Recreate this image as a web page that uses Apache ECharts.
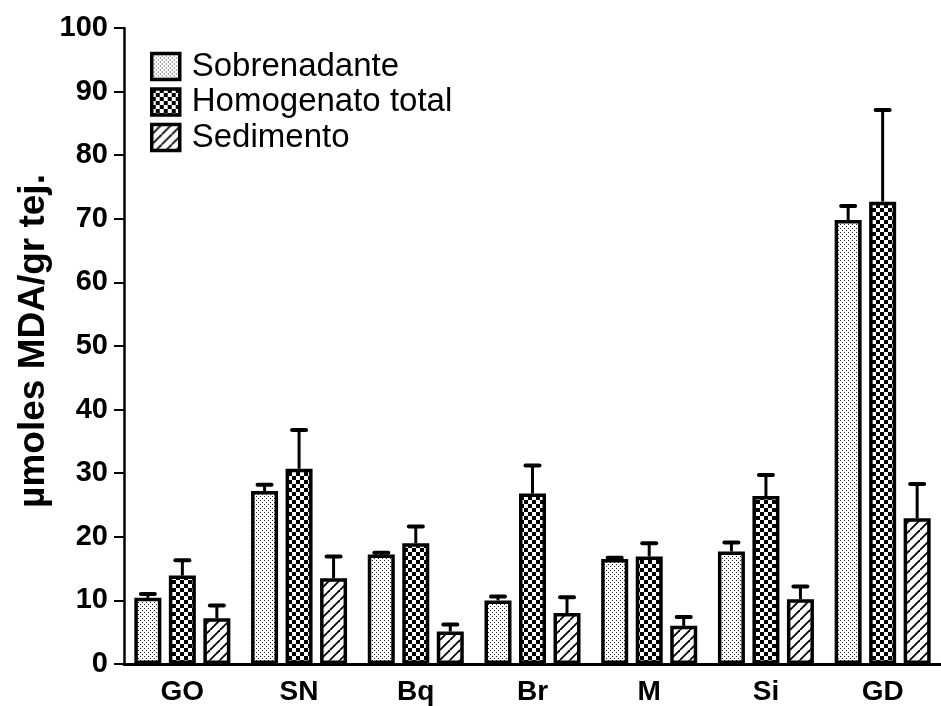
<!DOCTYPE html>
<html>
<head>
<meta charset="utf-8">
<script src="https://cdn.jsdelivr.net/npm/echarts@6/dist/echarts.min.js"></script>
<style>
html,body{margin:0;padding:0;background:#fff;}
#chart{width:941px;height:706px;}
</style>
</head>
<body>
<div id="chart"></div>
<script>
// ---- data ----
const categories = ['GO', 'SN', 'Bq', 'Br', 'M', 'Si', 'GD'];
const seriesNames = ['Sobrenadante', 'Homogenato total', 'Sedimento'];
const sobrenadante = [10.4, 27.2, 17.2, 10.0, 16.5, 17.7, 69.8];
const sobrenadanteErr = [0.6, 1.0, 0.3, 0.6, 0.2, 1.4, 2.2];
const homogenato = [13.9, 30.7, 19.0, 26.8, 16.9, 26.4, 72.7];
const homogenatoErr = [2.4, 6.1, 2.6, 4.4, 2.1, 3.3, 14.4];
const sedimento = [7.2, 13.5, 5.1, 8.0, 6.0, 10.2, 22.9];
const sedimentoErr = [2.0, 3.4, 1.1, 2.5, 1.4, 2.0, 5.4];
const yTicks = [0, 10, 20, 30, 40, 50, 60, 70, 80, 90, 100];
const yAxisTitle = 'µmoles MDA/gr tej.';

// ---- patterns ----
function makeCanvas(w, h, draw) {
  const c = document.createElement('canvas');
  c.width = w; c.height = h;
  const ctx = c.getContext('2d');
  ctx.fillStyle = '#fff';
  ctx.fillRect(0, 0, w, h);
  draw(ctx, w, h);
  return c;
}
const dots = makeCanvas(4, 4, (ctx) => {
  ctx.fillStyle = '#222';
  ctx.fillRect(0, 0, 1, 1);
  ctx.fillRect(2, 2, 1, 1);
});
const checker = makeCanvas(8, 8, (ctx) => {
  ctx.fillStyle = '#000';
  ctx.fillRect(0, 0, 4, 4);
  ctx.fillRect(4, 4, 4, 4);
});
const hatch = makeCanvas(10, 10, (ctx, w, h) => {
  ctx.strokeStyle = '#000';
  ctx.lineWidth = 1.8;
  for (let o = -w; o <= w; o += w) {
    ctx.beginPath();
    ctx.moveTo(o, h);
    ctx.lineTo(o + w, 0);
    ctx.stroke();
  }
});
const patterns = [dots, checker, hatch];

const FONT = '"Liberation Sans", Arial, sans-serif';
const BAR_W = 27;
const BAR_PITCH = 34.5;
const values = [sobrenadante, homogenato, sedimento];
const errors = [sobrenadanteErr, homogenatoErr, sedimentoErr];

const barSeries = seriesNames.map((name, k) => ({
  name: name,
  type: 'bar',
  barWidth: BAR_W,
  barGap: ((BAR_PITCH - BAR_W) / BAR_W * 100).toFixed(1) + '%',
  data: values[k],
  itemStyle: {
    color: { image: patterns[k], repeat: 'repeat' },
    borderColor: '#000',
    borderWidth: 3.5
  },
  emphasis: { disabled: true },
  z: 2
}));

const errSeries = seriesNames.map((name, k) => ({
  name: name + ' err',
  type: 'custom',
  data: categories.map((c, i) => [i, values[k][i], errors[k][i]]),
  encode: { x: 0, y: 1 },
  z: 3,
  renderItem: function (params, api) {
    const i = api.value(0), v = api.value(1), e = api.value(2);
    const p0 = api.coord([i, v]);
    const p1 = api.coord([i, v + e]);
    const x = p0[0] + (k - 1) * BAR_PITCH;
    return {
      type: 'group',
      children: [
        { type: 'line', shape: { x1: x, y1: p0[1], x2: x, y2: p1[1] }, style: { stroke: '#000', lineWidth: 3 } },
        { type: 'line', shape: { x1: x - 7, y1: p1[1], x2: x + 7, y2: p1[1] }, style: { stroke: '#000', lineWidth: 4, lineCap: 'round' } }
      ]
    };
  }
}));

const chart = echarts.init(document.getElementById('chart'), null, { renderer: 'canvas' });
chart.setOption({
  animation: false,
  backgroundColor: '#fff',
  grid: { left: 124, top: 28, right: -9, bottom: 39, containLabel: false },
  legend: {
    data: seriesNames.map(n => ({ name: n, icon: 'rect' })),
    orient: 'vertical',
    left: 145,
    top: 45,
    itemWidth: 28,
    itemHeight: 26,
    itemGap: 2.5,
    selectedMode: false,
    itemStyle: { borderColor: '#000', borderWidth: 3.5 },
    textStyle: { fontFamily: FONT, fontSize: 33, lineHeight: 30, color: '#000', padding: [0, 0, 0, 7] }
  },
  xAxis: {
    type: 'category',
    data: categories,
    axisLine: { lineStyle: { color: '#000', width: 3 } },
    axisTick: { alignWithLabel: true, length: 7, lineStyle: { color: '#000', width: 2 } },
    axisLabel: { color: '#000', fontFamily: FONT, fontSize: 28, fontWeight: 'bold', margin: 14 }
  },
  yAxis: {
    type: 'value',
    min: yTicks[0],
    max: yTicks[yTicks.length - 1],
    interval: yTicks[1] - yTicks[0],
    splitLine: { show: false },
    axisLine: { show: true, lineStyle: { color: '#000', width: 2.5 } },
    axisTick: { show: true, length: 10, lineStyle: { color: '#000', width: 2 } },
    axisLabel: { color: '#000', fontFamily: FONT, fontSize: 29, fontWeight: 'bold', margin: 16 }
  },
  graphic: [{
    type: 'text',
    x: 34,
    y: 341,
    rotation: Math.PI / 2,
    style: {
      text: yAxisTitle,
      fontFamily: FONT,
      fontSize: 37,
      fontWeight: 'bold',
      fill: '#000',
      align: 'center',
      verticalAlign: 'middle'
    }
  }],
  series: barSeries.concat(errSeries)
});
</script>
</body>
</html>
